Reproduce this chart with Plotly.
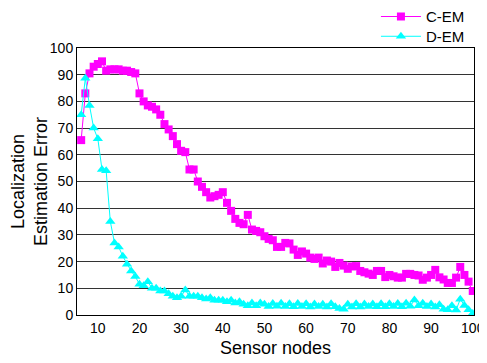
import plotly.graph_objects as go

x_nodes = list(range(6, 101))

c_em = [65.5, 83, 90.5, 93, 94, 95, 91.5, 92, 92, 92, 91.5, 91.5, 91, 90.5, 83,
        80, 78.5, 78, 77, 75, 71.5, 69.5, 67, 64, 61.5, 61, 54.5, 54.5, 50, 48,
        46, 44, 44.5, 45, 46, 42, 39, 36, 34.5, 34, 37.5, 32, 31.5, 31, 29.5,
        28.5, 28, 25.5, 25.5, 27, 26.8, 24.5, 22.5, 23.8, 23, 21.5, 21, 21.5, 19.3,
        20.4, 20, 18, 19.5, 18.5, 17.3, 18.2, 18.3, 16.5, 16, 15.5, 15, 16.5, 16.5,
        14.2, 15, 14.5, 14, 14, 15.4, 15.4, 15, 14.8, 13.2, 14, 15, 16.9, 14.1,
        13.3, 12, 12, 14, 18, 15, 12.5, 9]

d_em = [75, 88.7, 78.5, 70, 66, 54.5, 54, 35, 27, 25.5, 22, 19, 16.5, 14.4, 11.5,
        11, 12.5, 10, 10, 9, 9, 8, 7, 6.5, 7, 9.4, 7, 7, 7, 6.5,
        6, 6.5, 5.5, 5.5, 5.5, 5, 5.5, 4.5, 5, 4, 3.5, 4.5, 3.5, 4.5, 4,
        3.2, 4.3, 3.3, 4.4, 3.2, 4.2, 3.1, 4.3, 3.2, 4.2, 3, 4.1, 3.2, 4, 3,
        4.2, 3.1, 2.4, 2.2, 4, 3, 4.2, 3, 4.1, 3.2, 4.1, 3.1, 4.2, 3.1, 4.2,
        3.2, 4.3, 3.1, 4.4, 3.3, 5.6, 3.5, 4.4, 3.2, 4.1, 3, 3.8, 2.2, 2, 3.5,
        1.9, 5.9, 3.6, 2, 0.6]

x_ticks = [10, 20, 30, 40, 50, 60, 70, 80, 90, 100]
y_ticks = [0, 10, 20, 30, 40, 50, 60, 70, 80, 90, 100]

font = "Liberation Sans, Arial, sans-serif"

fig = go.Figure()
fig.add_trace(go.Scatter(
    x=x_nodes, y=c_em, name="C-EM", mode="lines+markers", legend="legend",
    line=dict(color="#FF00FF", width=1),
    marker=dict(symbol="square", size=8, color="#FF00FF"),
))
fig.add_trace(go.Scatter(
    x=x_nodes, y=d_em, name="D-EM", mode="lines+markers", legend="legend2",
    line=dict(color="#00FFFF", width=1),
    marker=dict(symbol="triangle-up", size=9, color="#00FFFF"),
))

leg_common = dict(xanchor="left", yanchor="middle", bgcolor="rgba(0,0,0,0)",
                  font=dict(size=15), itemwidth=40)

# page body has an 8px margin: the figure is sized/margined to compensate
fig.update_layout(
    width=479, height=355,
    margin=dict(l=69, r=13, t=40, b=48, autoexpand=False),
    paper_bgcolor="white", plot_bgcolor="white",
    font=dict(family=font, size=14, color="black"),
    showlegend=True,
    legend=dict(x=0.753, y=1.117, **leg_common),
    legend2=dict(x=0.753, y=1.043, **leg_common),
    xaxis=dict(range=[5, 100.3], tickvals=x_ticks, showgrid=False,
               showline=True, linecolor="black", linewidth=1, mirror=True,
               zeroline=False, ticks="", tickfont=dict(size=14),
               title=dict(text="Sensor nodes", font=dict(size=18), standoff=6)),
    yaxis=dict(range=[0, 100], tickvals=y_ticks, showgrid=True,
               gridcolor="#333333", gridwidth=1,
               showline=True, linecolor="black", linewidth=1, mirror=True,
               zeroline=False, ticks="", tickfont=dict(size=14),
               title=dict(text="Localization<br>Estimation Error",
                          font=dict(size=18), standoff=0)),
)

fig.write_html("out.html")
